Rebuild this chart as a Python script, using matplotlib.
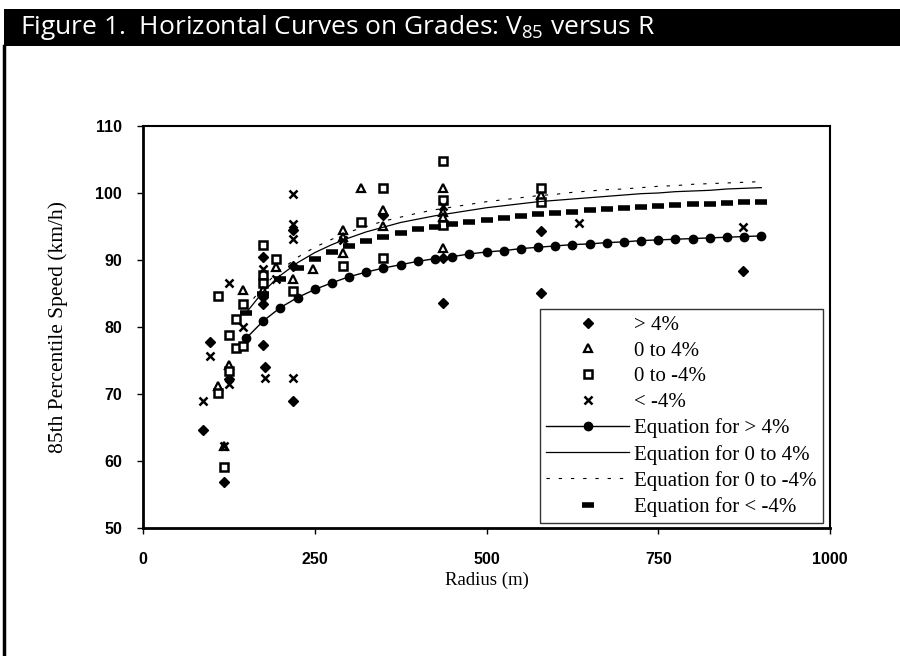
import matplotlib
matplotlib.use("Agg")
import matplotlib.pyplot as plt
from matplotlib.patches import Rectangle
from matplotlib.lines import Line2D

plt.rcParams['mathtext.fontset'] = 'custom'
plt.rcParams['mathtext.rm'] = 'Open Sans'

# observed points, one pair of lists per grade class
gt4_r = [88, 98, 118, 125, 175, 175, 175, 175, 178, 218, 218, 218, 349, 436, 436, 580, 580, 874]
gt4_v = [64.6, 77.8, 56.8, 72.3, 90.4, 84.5, 83.5, 77.3, 74.0, 94.5, 89.1, 69.0, 96.7, 90.3, 83.6, 94.4, 85.1, 88.4]

up_r = [109, 118, 125, 146, 175, 194, 218, 248, 291, 291, 291, 318, 349, 349, 436, 436, 436, 436, 580]
up_v = [71.2, 62.3, 74.3, 85.5, 85.5, 89.0, 87.1, 88.7, 94.5, 93.4, 91.1, 100.8, 97.5, 95.1, 100.7, 97.2, 96.4, 91.8, 99.7]

down_r = [109, 109, 118, 125, 125, 135, 135, 146, 146, 175, 175, 175, 194, 218, 291, 318, 349, 349, 436, 436, 436, 580, 580]
down_v = [84.6, 70.1, 59.1, 78.8, 73.5, 81.2, 76.8, 83.5, 77.2, 92.2, 87.8, 86.6, 90.2, 85.4, 89.1, 95.6, 100.8, 90.3, 104.8, 98.9, 95.2, 100.8, 98.7]

lt4_r = [88, 98, 118, 125, 125, 146, 175, 178, 194, 218, 218, 218, 218, 291, 436, 634, 874]
lt4_v = [69.0, 75.6, 62.3, 86.6, 71.5, 80.0, 88.6, 72.4, 87.1, 99.9, 95.3, 93.2, 72.4, 93.0, 98.0, 95.5, 95.0]

# fitted curves, every 25 m
eq_r = [150, 175, 200, 225, 250, 275, 300, 325, 350, 375, 400, 425, 450, 475, 500, 525,
        550, 575, 600, 625, 650, 675, 700, 725, 750, 775, 800, 825, 850, 875, 900]
eq_gt4 = [78.3, 80.9, 82.9, 84.4, 85.6, 86.6, 87.5, 88.2, 88.8, 89.3, 89.8, 90.2, 90.5, 90.9, 91.2, 91.4,
          91.7, 91.9, 92.1, 92.3, 92.4, 92.6, 92.7, 92.9, 93.0, 93.1, 93.2, 93.3, 93.4, 93.5, 93.6]
eq_up = [82.1, 85.3, 87.7, 89.6, 91.1, 92.3, 93.3, 94.2, 94.9, 95.6, 96.1, 96.6, 97.0, 97.4, 97.8, 98.1,
         98.4, 98.7, 98.9, 99.1, 99.3, 99.5, 99.7, 99.9, 100.0, 100.2, 100.3, 100.4, 100.6, 100.7, 100.8]
eq_down = [82.8, 86.1, 88.5, 90.4, 91.9, 93.1, 94.2, 95.0, 95.8, 96.4, 97.0, 97.5, 97.9, 98.3, 98.7, 99.0,
           99.3, 99.6, 99.8, 100.1, 100.3, 100.5, 100.6, 100.8, 101.0, 101.1, 101.3, 101.4, 101.5, 101.6, 101.7]
eq_lt4 = [82.1, 85.0, 87.1, 88.8, 90.1, 91.2, 92.1, 92.8, 93.5, 94.1, 94.6, 95.0, 95.4, 95.7, 96.0, 96.3,
          96.6, 96.8, 97.0, 97.2, 97.4, 97.6, 97.7, 97.9, 98.0, 98.2, 98.3, 98.4, 98.5, 98.6, 98.7]

xticks = [0, 250, 500, 750, 1000]
yticks = [50, 60, 70, 80, 90, 100, 110]

fig = plt.figure(figsize=(9, 6.56), dpi=100)
ax = fig.add_axes([143 / 900, 1 - 528 / 656, 687 / 900, 402 / 656])

# title bar and frame
fig.patches.append(Rectangle((4 / 900, 1 - 46 / 656), 1, 37 / 656, transform=fig.transFigure,
                             facecolor='black', edgecolor='none'))
fig.add_artist(Line2D([4 / 900, 4 / 900], [0, 1 - 46 / 656], transform=fig.transFigure,
                      color='black', lw=2.5))
fig.text(20 / 900, 1 - 28 / 656, r'Figure 1.  Horizontal Curves on Grades: V$_{\mathrm{85}}$ versus R',
         color='white', fontsize=19, family='Open Sans', va='center', ha='left')

ax.plot(gt4_r, gt4_v, ls='none', marker='D', ms=5, color='black', label='> 4%')
ax.plot(up_r, up_v, ls='none', marker='^', ms=6, mfc='white', mec='black', mew=1.6, label='0 to 4%')
ax.plot(down_r, down_v, ls='none', marker='s', ms=6, mfc='white', mec='black', mew=1.8, label='0 to -4%')
ax.plot(lt4_r, lt4_v, ls='none', marker='x', ms=6, color='black', mew=1.8, label='< -4%')

ax.plot(eq_r, eq_gt4, color='black', lw=1, marker='o', ms=6, label='Equation for > 4%')
ax.plot(eq_r, eq_up, color='black', lw=0.9, label='Equation for 0 to 4%')
ax.plot(eq_r, eq_down, color='black', lw=0.8, ls=(0, (3, 8)), label='Equation for 0 to -4%')
ax.plot(eq_r, eq_lt4, ls='none', marker='_', ms=9, mew=4, color='black', label='Equation for < -4%')

ax.set_xlim(0, 1000)
ax.set_ylim(50, 110)
ax.set_xticks(xticks)
ax.set_yticks(yticks)
for lab in ax.get_xticklabels() + ax.get_yticklabels():
    lab.set_family('Liberation Sans')
    lab.set_fontsize(11.5)
    lab.set_weight('bold')
ax.tick_params(axis='y', direction='out', length=4, width=1, pad=11)
ax.tick_params(axis='x', direction='out', length=4, width=1, pad=13)
for side in ['left', 'bottom']:
    ax.spines[side].set_linewidth(2)
for side in ['top', 'right']:
    ax.spines[side].set_linewidth(1.5)

ax.set_xlabel('Radius (m)', family='Liberation Serif', fontsize=13.5, labelpad=4)
ax.set_ylabel('85th Percentile Speed (km/h)', family='Liberation Serif', fontsize=15.5, labelpad=20)

leg = ax.legend(loc='lower right', bbox_to_anchor=(0.99, 0.012), numpoints=1, frameon=True, fancybox=False,
                prop={'family': 'Liberation Serif', 'size': 15}, handlelength=4.0,
                labelspacing=0.3, borderpad=0.3, handletextpad=0.25, borderaxespad=0)
leg.get_frame().set_edgecolor('black')
leg.get_frame().set_linewidth(1)

fig.savefig('out.png', dpi=100)
